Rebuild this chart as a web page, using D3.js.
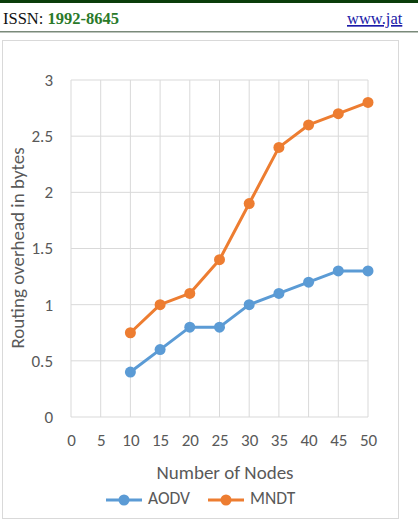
<!DOCTYPE html>
<html>
<head>
<meta charset="utf-8">
<script src="https://cdn.jsdelivr.net/npm/d3@7"></script>
<style>
body { margin: 0; background: #fff; }
</style>
</head>
<body>
<div id="chart"></div>
<script>
var nodes = [10, 15, 20, 25, 30, 35, 40, 45, 50];
var aodv = [0.4, 0.6, 0.8, 0.8, 1.0, 1.1, 1.2, 1.3, 1.3];
var mndt = [0.75, 1.0, 1.1, 1.4, 1.9, 2.4, 2.6, 2.7, 2.8];
var xTicks = [0, 5, 10, 15, 20, 25, 30, 35, 40, 45, 50];
var yTicks = [0, 0.5, 1, 1.5, 2, 2.5, 3];

var svgWidth = 418;
var svgHeight = 522;
var font = "Carlito, Lato, 'Open Sans', sans-serif";

var svg = d3.select("#chart")
.append("svg")
.attr("width", svgWidth)
.attr("height", svgHeight);

// journal header
svg.append("rect").attr("x", 0).attr("y", 0).attr("width", svgWidth).attr("height", 3).attr("fill", "#0b3d0b");
var hdr = svg.append("text")
.attr("x", 3).attr("y", 24)
.attr("font-family", "'Liberation Serif', 'Times New Roman', serif")
.attr("font-size", "16.5px");
hdr.append("tspan").attr("fill", "#111").text("ISSN: ");
hdr.append("tspan").attr("fill", "#2a7a2a").attr("font-weight", "bold").text("1992-8645");
svg.append("text")
.attr("x", 347).attr("y", 24)
.attr("font-family", "'Liberation Serif', 'Times New Roman', serif")
.attr("font-size", "16.5px")
.attr("fill", "#1a1aa8")
.attr("text-decoration", "underline")
.text("www.jat");
svg.append("rect").attr("x", 0).attr("y", 31).attr("width", svgWidth).attr("height", 1.5).attr("fill", "#7a8a7a");

// chart frame
svg.append("rect")
.attr("x", 2.5).attr("y", 40.5).attr("width", 396).attr("height", 478)
.attr("fill", "none").attr("stroke", "#d9d9d9");

var margin = {top: 80, left: 71};
var width = 368 - 71;
var height = 417 - 80;

var chartGroup = svg.append("g")
.attr("transform", `translate(${margin.left},${margin.top})`);

var xScale = d3.scaleLinear().domain([0, 50]).range([0, width]);
var yScale = d3.scaleLinear().domain([0, 3]).range([height, 0]);

// gridlines
chartGroup.selectAll(".vgrid").data(xTicks).enter()
.append("line")
.attr("x1", d => xScale(d)).attr("x2", d => xScale(d))
.attr("y1", 0).attr("y2", height)
.attr("stroke", "#d9d9d9").attr("stroke-width", 1);

chartGroup.selectAll(".hgrid").data(yTicks).enter()
.append("line")
.attr("x1", 0).attr("x2", width)
.attr("y1", d => yScale(d)).attr("y2", d => yScale(d))
.attr("stroke", "#d9d9d9").attr("stroke-width", 1);

// axes labels
var bottomAxis = d3.axisBottom(xScale).tickValues(xTicks).tickSize(0).tickPadding(17);
var leftAxis = d3.axisLeft(yScale).tickValues(yTicks).tickSize(0).tickPadding(18)
.tickFormat(d3.format("~g"));

var xg = chartGroup.append("g").attr("transform", `translate(0, ${height})`).call(bottomAxis);
var yg = chartGroup.append("g").call(leftAxis);
[xg, yg].forEach(function(g) {
    g.select(".domain").remove();
    g.selectAll("text").attr("font-family", font).attr("font-size", "17px").attr("fill", "#595959");
});

// series
var series = [
    {name: "AODV", values: aodv, color: "#5b9bd5"},
    {name: "MNDT", values: mndt, color: "#ed7d31"}
];

var line = d3.line()
.x((d, i) => xScale(nodes[i]))
.y(d => yScale(d));

series.forEach(function(s) {
    chartGroup.append("path")
    .datum(s.values)
    .attr("d", line)
    .attr("fill", "none")
    .attr("stroke", s.color)
    .attr("stroke-width", 3)
    .attr("stroke-linejoin", "round");

    chartGroup.selectAll(null).data(s.values).enter()
    .append("circle")
    .attr("cx", (d, i) => xScale(nodes[i]))
    .attr("cy", d => yScale(d))
    .attr("r", 5.5)
    .attr("fill", s.color);
});

// axis titles
svg.append("text")
.attr("x", 225).attr("y", 479)
.attr("text-anchor", "middle")
.attr("font-family", font)
.attr("font-size", "19px")
.attr("fill", "#595959")
.text("Number of Nodes");

svg.append("text")
.attr("transform", "translate(24, 248) rotate(-90)")
.attr("text-anchor", "middle")
.attr("font-family", font)
.attr("font-size", "19px")
.attr("fill", "#595959")
.text("Routing overhead in bytes");

// legend
var legend = svg.append("g").attr("transform", "translate(106, 500)");
series.forEach(function(s, i) {
    var g = legend.append("g").attr("transform", `translate(${i * 102}, 0)`);
    g.append("line").attr("x1", 0).attr("x2", 36).attr("y1", 0).attr("y2", 0)
    .attr("stroke", s.color).attr("stroke-width", 3);
    g.append("circle").attr("cx", 18).attr("cy", 0).attr("r", 5.5).attr("fill", s.color);
    g.append("text").attr("x", 42).attr("y", 0)
    .attr("dominant-baseline", "middle")
    .attr("font-family", font)
    .attr("font-size", "17.5px")
    .attr("fill", "#595959")
    .text(s.name);
});
</script>
</body>
</html>
